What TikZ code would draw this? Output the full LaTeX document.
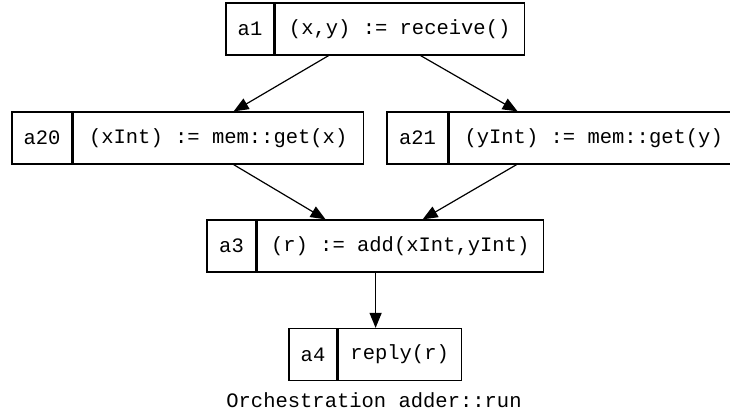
\documentclass[tikz,border=0pt]{standalone}
\usepackage{fontspec}
\setmonofont{Liberation Mono}
\usetikzlibrary{arrows.meta,calc}
\begin{document}
\begin{tikzpicture}[x=1pt,y=-1pt,
  cell/.style={draw,line width=1.2pt,rectangle,minimum height=52pt,inner sep=0pt,
    font=\ttfamily\fontsize{20.5}{24}\selectfont},
  arr/.style={line width=1.2pt,-{Triangle[length=15pt,width=12pt]}},
  capt/.style={font=\ttfamily\fontsize{20.5}{24}\selectfont,inner sep=0pt}]
\useasboundingbox (0,0) rectangle (730,417);
\clip (0,0) rectangle (730,417);
% a1
\node[cell,minimum width=48pt] (a1id) at (250,29) {a1};
\node[cell,minimum width=249pt,anchor=west] (a1op) at (a1id.east) {(x,y) := receive()};
% a20
\node[cell,minimum width=60pt] (a20id) at (42,138) {a20};
\node[cell,minimum width=290pt,anchor=west] (a20op) at (a20id.east) {(xInt) := mem::get(x)};
% a21
\node[cell,minimum width=61pt] (a21id) at (417.5,138) {a21};
\node[cell,minimum width=289pt,anchor=west] (a21op) at (a21id.east) {(yInt) := mem::get(y)};
% a3
\node[cell,minimum width=49pt] (a3id) at (231.5,246) {a3};
\node[cell,minimum width=286pt,anchor=west] (a3op) at (a3id.east) {(r) := add(xInt,yInt)};
% a4
\node[cell,minimum width=48pt] (a4id) at (313,354.5) {a4};
\node[cell,minimum width=123pt,anchor=west] (a4op) at (a4id.east) {reply(r)};
% caption
\node[capt,anchor=base] (cap) at (374,407) {Orchestration adder::run};
% edges
\draw[arr] ($(a1op.south west)+(54,0)$) -- ($(a20op.north west)+(161,0)$);
\draw[arr] ($(a1op.south west)+(146,0)$) -- ($(a21op.north west)+(69,0)$);
\draw[arr] ($(a20op.south west)+(161,0)$) -- ($(a3op.north west)+(69,0)$);
\draw[arr] ($(a21op.south west)+(68,0)$) -- ($(a3op.north west)+(166,0)$);
\draw[arr] ($(a3op.south west)+(119,0)$) -- ($(a4op.north west)+(38,0)$);
\end{tikzpicture}
\end{document}
